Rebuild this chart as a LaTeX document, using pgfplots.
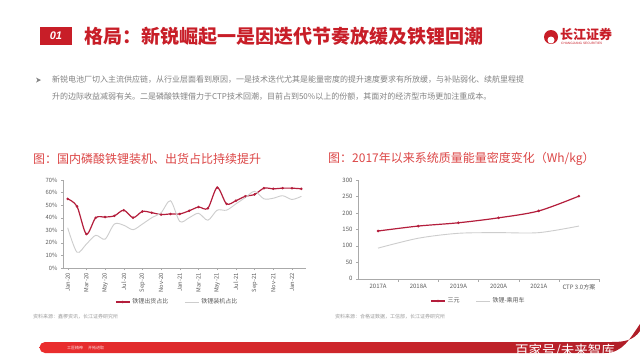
\documentclass[border=0pt]{standalone}
\usepackage{pgfplots}
\pgfplotsset{compat=1.18}
\usepackage{fontspec}
\setmainfont{Noto Sans CJK SC}
\newfontfamily\lib{Liberation Sans}
\definecolor{titlered}{RGB}{200,30,40}
\definecolor{ctitle}{RGB}{220,70,70}
\definecolor{linered}{RGB}{180,30,60}
\definecolor{linegrey}{RGB}{205,205,205}
\definecolor{textgrey}{RGB}{130,130,130}
\definecolor{tickgrey}{RGB}{90,90,90}
\definecolor{axisgrey}{RGB}{170,170,170}
\definecolor{barA}{RGB}{235,45,45}
\definecolor{barB}{RGB}{175,30,40}
\begin{document}
\begin{tikzpicture}
\begin{scope}[x=1pt,y=1pt]
\path[use as bounding box] (0,0) rectangle (640,360);
\fill[white] (0,0) rectangle (640,360);
% header
\fill[titlered] (40,315) rectangle (72,333);
\node[white,font=\lib\bfseries\itshape\fontsize{11}{11}\selectfont] at (56,324) {01};
\node[anchor=west,text=titlered,font=\bfseries\fontsize{19}{19}\selectfont,inner sep=0] at (84,324) {格局：新锐崛起一是因迭代节奏放缓及铁锂回潮};
% logo
\fill[titlered] (551,323) circle (7);
\fill[white] (551,320) circle (3.5);
\node[anchor=west,text=titlered,font=\bfseries\fontsize{13}{13}\selectfont,inner sep=0] at (560,326) {长江证券};
\node[anchor=west,text=titlered,font=\lib\fontsize{3.2}{3.2}\selectfont,inner sep=0] at (561,316.5) {CHANGJIANG SECURITIES};
% body text
\fill[textgrey] (36,277.5) -- (41,280) -- (36,282.5) -- (37.5,280) -- cycle;
\node[anchor=west,text=textgrey,font=\fontsize{8}{8}\selectfont,inner sep=0] at (52,280) {新锐电池厂切入主流供应链，从行业层面看到原因，一是技术迭代尤其是能量密度的提升速度要求有所放缓，与补贴弱化、续航里程提};
\node[anchor=west,text=textgrey,font=\fontsize{8}{8}\selectfont,inner sep=0] at (52,263) {升的边际收益减弱有关。二是磷酸铁锂借力于CTP技术回潮，目前占到50\%以上的份额，其面对的经济型市场更加注重成本。};
% chart titles
\node[anchor=west,text=ctitle,font=\fontsize{12}{12}\selectfont,inner sep=0] at (33,201) {图：国内磷酸铁锂装机、出货占比持续提升};
\node[anchor=west,text=ctitle,font=\fontsize{12}{12}\selectfont,inner sep=0] at (328,201) {图：2017年以来系统质量能量密度变化（Wh/kg）};
% sources
\node[anchor=west,text=textgrey!80,font=\fontsize{5}{5}\selectfont,inner sep=0] at (33,43) {资料来源：鑫椤资讯，长江证券研究所};
\node[anchor=west,text=textgrey!80,font=\fontsize{5}{5}\selectfont,inner sep=0] at (335,43) {资料来源：合格证数据，工信部，长江证券研究所};
% footer bar
\shade[left color=barA,right color=barB] (45,7) -- (605,7) to[out=0,in=235] (640,36) -- (640,29) to[out=235,in=0] (612,18) -- (45,18) arc (90:270:5.5) -- cycle;
\node[text=white!85!barA,font=\fontsize{4}{4}\selectfont,anchor=west,inner sep=0] at (67,12.5) {工匠精神 \quad 开拓进取};
\node[text=white,font=\fontsize{13.5}{13.5}\selectfont,anchor=south west,inner sep=0] at (515,2) {百家号/未来智库};
\end{scope}
% left chart
\begin{axis}[at={(63pt,92pt)},anchor=south west,width=243pt,height=88pt,scale only axis,
  xmin=-0.5,xmax=25.5,ymin=0,ymax=70,
  axis x line*=bottom,axis y line*=left,
  axis line style={-,draw=axisgrey},
  tick style={draw=axisgrey},tick align=outside,major tick length=2pt,
  ytick={0,10,...,70},
  yticklabel={\pgfmathprintnumber{\tick}\%},
  xtick={0,2,...,24},
  xticklabels={Jan-20,Mar-20,May-20,Jul-20,Sep-20,Nov-20,Jan-21,Mar-21,May-21,Jul-21,Sep-21,Nov-21,Jan-22},
  xticklabel style={rotate=90,anchor=east,font=\fontsize{5.8}{5.8}\selectfont,text=tickgrey},
  yticklabel style={font=\fontsize{5.8}{5.8}\selectfont,text=tickgrey},
  /pgf/number format/assume math mode=true,
  legend style={draw=none,fill=none,at={(0.47,-0.386)},anchor=center,legend columns=2,
    font=\fontsize{6}{6}\selectfont,text=tickgrey,
    /tikz/every even column/.append style={column sep=14pt}},
  legend image code/.code={\draw[#1] (0pt,0pt) -- (14pt,0pt); \draw[#1,only marks] plot coordinates {(7pt,0pt)};},
]
\addplot[color=linered,line width=1.2pt,smooth,mark=*,mark size=0.55pt] coordinates {
(0,55)(1,49)(2,27)(3,40)(4,40.5)(5,41.5)(6,46)(7,40)(8,45)(9,44)(10,42.5)(11,43)(12,43)(13,45.5)(14,48.5)(15,47.5)(16,64)(17,51)(18,53.5)(19,57)(20,58.5)(21,63.5)(22,63)(23,63.5)(24,63.5)(25,63)};
\addlegendentry{铁锂出货占比}
\addplot[color=linegrey,line width=0.9pt,smooth,mark=none] coordinates {
(0,32)(1,12.5)(2,19)(3,26)(4,23)(5,35)(6,34)(7,30.5)(8,35)(9,40)(10,44)(11,53.5)(12,37)(13,40)(14,43.5)(15,38)(16,46)(17,46)(18,51)(19,56)(20,61)(21,55)(22,55.5)(23,57.5)(24,54.5)(25,57)};
\addlegendentry{铁锂装机占比}
\end{axis}
% right chart
\begin{axis}[at={(358pt,81.3pt)},anchor=south west,width=241pt,height=98.7pt,scale only axis,
  xmin=-0.5,xmax=5.5,ymin=0,ymax=300,
  axis x line*=bottom,axis y line*=left,
  axis line style={-,draw=axisgrey},
  tick style={draw=axisgrey},tick align=outside,major tick length=2pt,
  ytick={0,50,...,300},
  xtick={0,...,5},
  x tick style={draw=none},
  minor xtick={0.5,1.5,...,5.5},
  minor x tick style={draw=axisgrey},minor tick length=3pt,
  xticklabels={2017A,2018A,2019A,2020A,2021A,CTP 3.0方案},
  xticklabel style={font=\fontsize{6}{6}\selectfont,text=tickgrey},
  yticklabel style={font=\fontsize{6}{6}\selectfont,text=tickgrey},
  /pgf/number format/assume math mode=true,
  legend style={draw=none,fill=none,at={(0.5,-0.226)},anchor=center,legend columns=2,
    font=\fontsize{6}{6}\selectfont,text=tickgrey,
    /tikz/every even column/.append style={column sep=14pt}},
  legend image code/.code={\draw[#1] (0pt,0pt) -- (14pt,0pt); \draw[#1,only marks] plot coordinates {(7pt,0pt)};},
]
\addplot[color=linered,line width=1.2pt,smooth,mark=*,mark size=0.6pt] coordinates {
(0,145)(1,160)(2,170)(3,185)(4,206)(5,251)};
\addlegendentry{三元}
\addplot[color=linegrey,line width=0.9pt,smooth,mark=none] coordinates {
(0,93)(1,123)(2,138)(3,140)(4,140)(5,160)};
\addlegendentry{铁锂-乘用车}
\end{axis}
\end{tikzpicture}
\end{document}
